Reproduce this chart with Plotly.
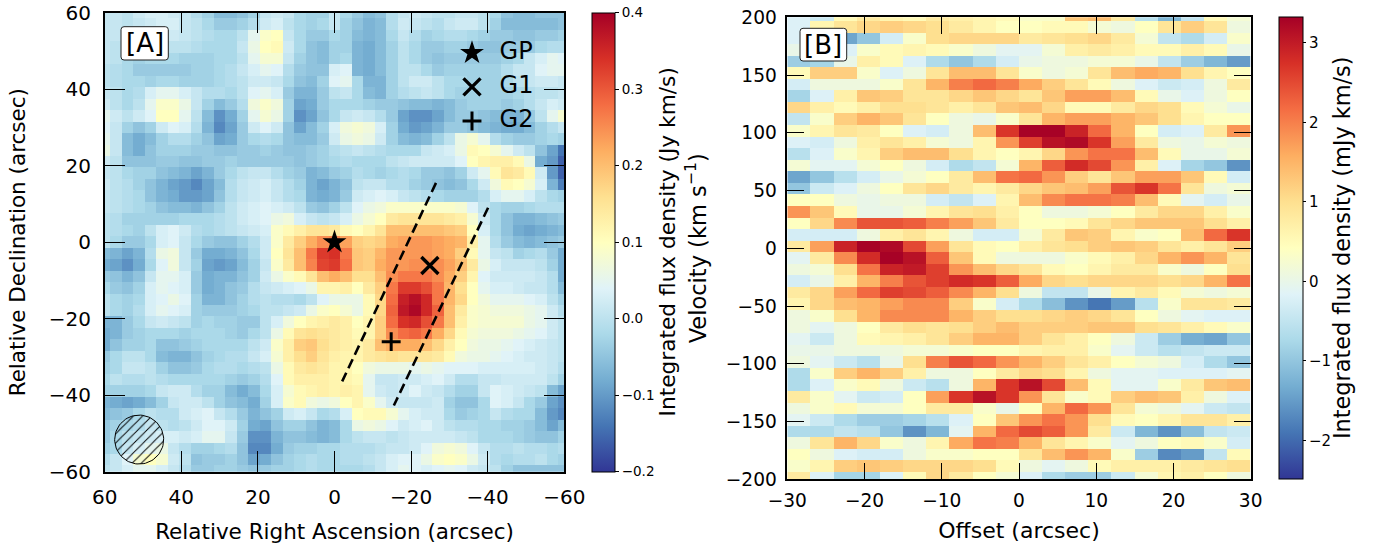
import numpy as np
import plotly.graph_objects as go

RD_YL_BU_R = ["#313695", "#4575b4", "#74add1", "#abd9e9", "#e0f3f8", "#ffffbf",
              "#fee090", "#fdae61", "#f46d43", "#d73027", "#a50026"]
COLORSCALE = [[i / 10, c] for i, c in enumerate(RD_YL_BU_R)]

# Panel A: integrated flux density, hundredths of Jy km/s
ra_offsets = [60 - 3 * k for k in range(41)]
dec_offsets = [60 - 3 * k for k in range(41)]
flux_map = [
 [1,1,0,2,3,3,2,1,-1,-3,-6,-6,-5,-3,1,2,1,-2,-3,-3,1,-2,-4,-6,-5,-1,1,2,1,0,0,1,1,0,-2,-5,-6,-6,-5,-5,-5],
 [1,1,0,1,2,3,3,1,0,-2,-4,-4,-3,-1,2,3,0,-2,-3,-2,1,-3,-5,-7,-6,-1,2,1,0,-1,1,2,2,0,-3,-6,-6,-6,-6,-6,-5],
 [1,1,-1,-1,1,2,2,1,0,-1,-2,-2,0,5,9,10,1,-2,-4,-4,-2,-3,-6,-7,-6,-2,1,-1,-3,-2,-1,-1,-2,-3,-4,-4,-5,-5,-4,-4,-3],
 [1,0,-1,-1,0,1,0,0,-1,-2,-2,-2,1,6,10,11,2,-2,-5,-6,-3,-3,-7,-8,-6,-3,0,-2,-4,-4,-3,-3,-4,-5,-5,-4,-4,-4,-2,-1,-1],
 [1,0,-2,-3,-2,-2,-2,-3,-3,-3,-2,-2,0,5,8,8,1,-3,-5,-6,-3,-2,-7,-8,-6,-3,0,-2,-4,-5,-4,-4,-4,-4,-4,-3,-2,1,3,5,4],
 [0,-1,-2,-4,-4,-4,-4,-4,-3,-3,-2,-1,1,3,5,4,-1,-4,-5,-5,3,4,-7,-8,-6,-3,0,0,-2,-4,-3,-3,-3,-3,-3,-1,1,1,4,5,5],
 [0,-1,-2,-2,-3,-2,-2,-3,-3,-3,-2,-1,0,2,2,1,-2,-5,-6,-3,4,5,-2,-7,-7,-3,0,2,2,0,-2,-2,-3,-3,-3,-2,0,1,2,2,1],
 [1,0,-2,-1,3,5,5,3,1,-1,-1,-2,0,4,5,3,-4,-7,-7,-4,0,1,-2,-6,-7,-3,-1,0,1,0,-2,-3,-3,-3,-3,-3,-2,-1,0,0,1],
 [2,0,-2,0,5,9,9,6,1,-3,-6,-4,-1,7,9,7,-3,-9,-8,-4,-2,-2,-2,-3,-4,-4,-5,-6,-6,-7,-6,-4,-3,-3,-3,-4,-3,-1,1,3,2],
 [5,2,0,2,4,10,10,5,0,-6,-11,-8,-3,5,8,6,-3,-11,-9,-5,-2,1,2,1,-1,-4,-9,-11,-11,-9,-6,-4,-4,-5,-6,-7,-7,-4,0,5,8],
 [4,1,-3,-5,-3,2,4,3,-1,-7,-12,-9,-4,2,4,2,-5,-9,-6,-3,3,7,8,7,3,-3,-8,-10,-9,-7,-4,-4,-5,-6,-7,-8,-8,-6,-3,-1,1],
 [5,1,-6,-8,-6,-3,-1,-1,-3,-5,-9,-8,-4,-2,-1,-2,-5,-6,-6,-4,2,6,7,6,2,-3,-6,-7,-6,-3,0,6,8,5,-1,-3,-4,-4,-3,-2,-3],
 [6,1,-6,-8,-5,-3,-3,-3,-4,-4,-5,-5,-4,-4,-3,-4,-5,-5,-4,-3,-1,0,1,0,-1,-2,-2,-2,1,2,3,6,11,10,8,5,2,0,-5,-9,-14],
 [2,0,-5,-5,-5,-4,-4,-5,-5,-4,-4,-3,-4,-4,-4,-4,-4,-5,-4,-3,-2,-1,-2,-2,-2,0,1,2,2,2,2,4,10,12,13,13,11,6,-8,-10,-16],
 [1,0,-2,-3,-3,-5,-6,-7,-9,-7,-4,-2,0,1,1,-1,-3,-4,-7,-6,-4,-3,-1,-2,-3,-2,-1,-2,-4,-4,-5,-3,2,5,11,15,14,11,2,-10,-16],
 [2,0,-1,-3,-5,-7,-9,-10,-12,-9,-6,-1,1,2,3,1,-1,-3,-7,-9,-7,-5,0,1,1,-1,-1,-3,-4,-5,-6,-5,-2,2,7,11,10,8,3,-7,-13],
 [1,0,-1,-2,-5,-7,-8,-10,-10,-9,-5,-1,1,2,3,1,-1,-2,-7,-8,-7,-4,2,3,4,3,1,0,-1,-2,-3,-3,-3,-1,3,5,5,3,0,-2,-3],
 [1,0,-1,-2,-3,-5,-6,-6,-7,-5,-3,0,2,3,4,3,2,0,-4,-5,-3,0,4,6,7,9,9,9,9,9,9,8,4,0,-2,-3,-3,-2,-1,-1,-1],
 [0,-1,-3,-3,-3,-3,-3,-2,-2,-2,-1,0,2,3,4,6,7,3,1,0,1,3,6,8,10,14,15,15,15,15,14,13,8,2,-2,-5,-7,-7,-6,-5,-4],
 [0,-1,-2,-3,0,3,4,2,-1,-2,-1,0,1,2,3,9,11,13,15,15,14,11,10,12,15,20,20,20,20,20,19,18,10,3,-2,-5,-8,-9,-8,-7,-6],
 [0,-2,-4,-4,-2,3,4,1,-2,-4,-5,-5,-3,-1,2,9,14,18,22,25,26,23,18,17,18,22,23,24,24,23,22,21,13,5,-1,-4,-6,-7,-6,-5,-4],
 [-6,-7,-9,-7,-1,6,7,1,-4,-8,-8,-7,-5,-2,2,10,15,20,27,33,34,27,19,18,21,24,24,24,24,23,22,18,11,5,1,0,-3,-2,-1,-4,-8],
 [-8,-9,-11,-8,-2,4,7,1,-3,-9,-10,-9,-6,-3,1,9,14,20,26,32,33,28,19,18,22,24,24,25,25,25,23,20,14,6,3,1,1,1,0,-3,-8],
 [-4,-5,-7,-5,1,5,5,3,-4,-8,-7,-7,-5,-3,2,6,9,11,15,20,22,20,16,16,20,25,27,27,27,25,22,18,12,4,2,2,2,2,1,-1,-8],
 [-2,-4,-5,-3,3,5,4,3,-4,-8,-7,-5,-4,-1,1,2,3,4,6,12,12,13,10,14,18,27,33,33,31,27,21,16,10,5,3,3,2,1,1,-1,-6],
 [0,-2,-3,-2,3,4,6,4,-3,-7,-7,-5,-3,-1,0,-1,-1,-2,0,4,6,6,6,11,17,28,36,38,35,27,21,17,10,7,5,5,5,4,3,0,-3],
 [0,-2,-3,-1,3,5,4,3,-3,-4,-4,-4,-3,-2,0,0,1,2,6,9,10,8,6,11,17,29,37,39,35,29,20,14,9,8,7,7,7,6,5,2,-1],
 [-7,-7,-4,-2,1,2,1,0,-3,-2,-3,-3,-4,-4,0,3,7,10,12,13,14,13,10,12,18,28,34,35,31,27,20,13,9,8,8,8,8,6,5,2,0],
 [-8,-7,-4,-3,-2,-2,-2,-3,-2,-2,-2,-3,-4,-2,0,6,11,15,16,15,14,13,11,12,18,25,28,29,27,22,17,11,8,7,7,7,6,5,4,2,0],
 [-8,-5,-3,-3,-2,-5,-5,-4,-3,-2,-2,-2,-2,0,2,9,13,18,19,16,14,13,12,14,20,22,22,22,20,17,13,10,7,6,6,5,4,3,2,1,0],
 [-4,-2,0,0,-2,-6,-7,-7,-5,-3,-2,-1,-1,1,3,8,13,16,18,15,13,12,12,14,15,16,15,15,15,14,11,7,6,6,5,4,3,2,2,1,0],
 [-3,-2,1,1,0,-3,-5,-5,-4,-2,-1,-1,-2,-1,0,6,11,14,15,14,12,12,10,7,6,6,6,5,6,5,4,4,4,3,3,3,3,3,2,1,-1],
 [-2,0,-1,-1,0,-1,-2,-2,-2,-2,-2,-3,-4,-3,-1,4,11,13,13,13,12,12,11,5,1,1,2,2,3,4,2,-1,-1,1,1,2,2,2,2,0,-3],
 [-3,-3,-3,-3,-2,1,2,2,-1,-3,-3,-6,-8,-6,-2,3,8,11,12,13,12,13,12,5,2,1,2,4,2,1,-1,-3,-3,1,4,3,2,1,0,-6,-9],
 [-7,-8,-9,-8,-6,-3,1,2,2,0,-3,-5,-6,-8,-3,3,9,11,7,6,7,10,12,9,5,2,1,1,1,2,-3,-5,-5,-2,4,3,1,-2,-4,-9,-11],
 [-6,-5,-4,-2,0,-1,-1,2,3,4,1,-1,-4,-7,-5,-3,2,3,1,-2,-1,3,10,11,11,8,5,3,2,2,-2,-4,-3,-2,1,-1,-2,-2,-6,-10,-12],
 [-4,-3,-2,-1,1,0,-1,0,2,4,4,2,-3,-8,-9,-5,-3,-3,-5,-7,-6,-2,6,7,6,4,2,3,4,2,0,-1,-1,-2,-2,-3,-3,-4,-6,-9,-6],
 [-4,-2,0,1,2,3,3,2,3,5,5,1,-4,-11,-11,-7,-5,-5,-6,-7,-6,-2,0,1,1,0,1,2,2,2,2,1,0,-2,-2,-2,-3,-4,-5,-5,-3],
 [-3,-2,1,3,5,6,1,-1,-3,-3,-2,-1,-5,-12,-12,-8,-4,-3,-3,-2,-2,-1,-1,-1,0,1,1,2,4,7,8,7,4,1,-1,-1,0,-1,-1,-2,-1],
 [-1,1,4,8,10,8,2,0,-5,-4,-4,-3,-5,-9,-8,-5,-3,-2,-1,-2,-2,-1,-1,0,1,3,4,4,6,9,10,9,6,2,-1,-2,-1,-1,0,-2,-3],
 [0,1,3,5,5,3,1,-1,-4,-4,-3,-3,-4,-5,-4,-3,-3,-2,-1,-2,-2,-2,-2,-1,1,3,5,4,3,4,5,4,2,1,0,-3,-5,-5,-5,-5,-5],
]

# Panel B: position-velocity slice, tenths of mJy km/s
pv_offsets = [-28.5 + 3 * k for k in range(20)]
pv_velocities = [201.8 - 10 * k for k in range(41)]
pv_slice = [
 [-2,-4,5,8,6,5,8,7,6,5,3,3,13,14,8,-6,-12,-5,5,2],
 [-2,6,9,11,12,11,10,8,6,4,4,5,5,2,1,4,9,12,9,1],
 [-2,-4,-14,-10,-3,3,10,11,11,11,8,9,10,11,8,2,-5,-7,-3,3],
 [0,-2,-2,3,5,6,5,3,1,-1,-1,2,7,8,7,5,5,7,5,0],
 [-9,-8,0,7,5,-2,-7,-10,-7,-3,0,1,1,2,2,0,-5,-9,-12,-15],
 [5,12,12,3,-2,1,9,14,14,9,3,1,2,9,14,16,15,10,6,4],
 [-3,1,1,1,3,9,15,20,22,20,16,12,9,5,1,-2,-4,-3,1,8],
 [-8,-2,7,13,12,9,9,11,13,11,9,13,17,17,14,5,0,-2,1,4],
 [11,7,5,7,10,10,9,7,9,13,14,11,5,5,8,11,10,5,2,0],
 [-5,3,12,15,13,9,4,1,0,3,9,15,17,17,15,13,10,6,4,4],
 [3,6,9,8,4,-2,-3,1,14,27,33,33,29,22,15,4,-3,-2,8,18],
 [-2,-3,1,7,9,7,2,1,6,18,26,31,32,27,17,8,1,0,2,1],
 [-6,-2,3,6,12,14,14,10,6,4,6,11,18,21,21,14,5,0,0,2],
 [2,-1,-1,2,4,1,-3,-7,-5,2,15,23,28,25,18,7,-2,-8,-10,-16],
 [-14,-10,-6,-3,0,2,4,8,14,21,22,18,12,9,13,17,17,13,5,-3],
 [-10,-4,-2,1,4,9,11,8,6,8,11,13,14,17,24,27,21,9,1,2],
 [4,4,1,0,1,1,-3,-5,-2,6,14,19,21,21,20,14,5,-1,-3,0],
 [18,13,5,0,0,2,6,9,10,7,4,1,1,2,4,8,11,11,7,3],
 [4,11,19,24,24,23,20,17,13,8,4,4,5,9,11,13,13,13,10,7],
 [-3,-3,-3,1,7,9,6,1,-3,-3,2,8,13,12,6,3,4,14,22,27],
 [8,17,29,33,32,25,17,9,5,4,7,9,10,12,13,12,9,7,9,12],
 [-1,8,19,28,33,31,23,13,5,1,1,1,3,5,7,11,15,18,15,9],
 [1,2,10,21,29,30,26,18,14,11,9,5,4,6,8,8,3,1,4,10],
 [-3,0,7,15,20,24,26,28,27,23,16,11,10,11,11,11,10,11,15,21],
 [8,11,17,22,26,25,23,19,15,10,1,-5,-5,0,6,8,5,2,1,2],
 [6,11,14,15,17,19,19,12,3,-3,-7,-11,-16,-19,-15,-6,3,9,9,8],
 [1,3,10,15,19,19,19,15,12,10,10,11,12,11,9,4,1,-1,-2,-2],
 [1,-1,1,4,8,10,9,10,12,14,12,12,12,13,13,10,9,7,5,3],
 [-1,-4,1,5,6,7,9,12,15,15,12,9,7,4,1,-4,-9,-13,-14,-10],
 [0,0,1,1,1,2,2,3,4,4,6,7,7,3,-1,-4,-6,-5,-4,-4],
 [1,-1,-4,-6,0,10,20,24,22,18,15,12,9,7,4,2,1,-3,-7,-10],
 [-7,3,12,15,12,7,1,1,4,8,11,10,6,1,-1,-1,-2,-2,-2,-1],
 [-7,-2,3,5,1,-4,-6,1,15,27,31,25,14,5,-1,-1,3,8,13,14],
 [8,3,-1,-4,-3,4,17,27,31,27,18,9,3,5,12,14,13,7,1,-2],
 [1,3,5,2,2,4,8,8,3,0,4,15,22,18,9,2,1,-1,-4,-5],
 [-1,-4,-7,-9,-9,-8,-6,-2,4,13,18,21,18,10,5,4,6,9,9,7],
 [-7,-7,-5,-6,-10,-16,-12,-1,15,22,25,23,18,8,-4,-12,-16,-11,-5,-4],
 [1,9,15,11,3,1,6,16,21,20,15,9,6,3,-1,1,4,5,3,-3],
 [4,1,-2,-3,-3,1,3,3,4,4,9,14,18,15,3,-9,-17,-15,-5,5],
 [3,6,12,13,12,11,11,11,10,5,1,-1,1,5,7,7,7,8,9,10],
 [8,-2,-8,-8,-2,5,11,8,4,2,-2,-7,-9,-9,-4,2,6,7,4,1],
]

# Sources in panel A
source_names = ["GP", "G1", "G2"]
source_ra = [0, -24.9, -14.8]
source_dec = [0, -6.1, -26]
key_ra = [-35.9, -35.9, -35.9]
key_dec = [49.5, 40.6, 31.7]
key_label_ra = [-43.1, -43.1, -43.1]

# Dashed slit edges in panel A
slit_a_ra = [-26.5, -2.0]
slit_a_dec = [15.5, -36.4]
slit_b_ra = [-40.1, -15.5]
slit_b_dec = [9.0, -42.7]

# Beam in panel A
beam_ra, beam_dec, beam_radius = 51.0, -51.6, 6.4

# Tick values
ra_ticks = [60, 40, 20, 0, -20, -40, -60]
dec_ticks = [60, 40, 20, 0, -20, -40, -60]
offset_ticks = [-30, -20, -10, 0, 10, 20, 30]
velocity_ticks = [-200, -150, -100, -50, 0, 50, 100, 150, 200]

W, H = 1382, 549
FONT = "DejaVu Sans"


def xdom(a, b):
    return [a / W, b / W]


def ydom(top, bottom):
    return [1 - bottom / H, 1 - top / H]


def label_box(x0, x1, y0, y1, r=3):
    """Rounded white box in paper pixels, for the panel labels."""
    X = lambda v: v / W
    Y = lambda v: 1 - v / H
    path = (f"M {X(x0 + r)} {Y(y0)} L {X(x1 - r)} {Y(y0)} Q {X(x1)} {Y(y0)} {X(x1)} {Y(y0 + r)} "
            f"L {X(x1)} {Y(y1 - r)} Q {X(x1)} {Y(y1)} {X(x1 - r)} {Y(y1)} "
            f"L {X(x0 + r)} {Y(y1)} Q {X(x0)} {Y(y1)} {X(x0)} {Y(y1 - r)} "
            f"L {X(x0)} {Y(y0 + r)} Q {X(x0)} {Y(y0)} {X(x0 + r)} {Y(y0)} Z")
    return dict(type="path", xref="paper", yref="paper", path=path, fillcolor="#fff",
                line=dict(color="#222", width=1), layer="above")


fig = go.Figure()

fig.add_trace(go.Heatmap(
    x=ra_offsets, y=dec_offsets, z=np.array(flux_map) / 100, xaxis="x", yaxis="y",
    colorscale=COLORSCALE, zmin=-0.2, zmax=0.4, hoverinfo="skip",
    colorbar=dict(
        x=592.3 / W, xanchor="left", thicknessmode="pixels", thickness=23.4,
        y=1 - 12.7 / H, yanchor="top", lenmode="pixels", len=459,
        xpad=0, ypad=0, outlinewidth=1, outlinecolor="#000",
        tickmode="array", tickvals=[-0.2, -0.1, 0, 0.1, 0.2, 0.3, 0.4],
        ticktext=["\u22120.2", "\u22120.1", "0.0", "0.1", "0.2", "0.3", "0.4"],
        ticks="outside", ticklen=4, tickwidth=1, tickcolor="#000",
        tickfont=dict(family=FONT, size=13.5, color="#000"),
    ),
))

fig.add_trace(go.Heatmap(
    x=pv_offsets, y=pv_velocities, z=np.array(pv_slice) / 10, xaxis="x2", yaxis="y2",
    colorscale=COLORSCALE, zmin=-2.49, zmax=3.32, hoverinfo="skip",
    colorbar=dict(
        x=1279.3 / W, xanchor="left", thicknessmode="pixels", thickness=23.7,
        y=1 - 17.3 / H, yanchor="top", lenmode="pixels", len=462,
        xpad=0, ypad=0, outlinewidth=1, outlinecolor="#000",
        tickmode="array", tickvals=[-2, -1, 0, 1, 2, 3],
        ticks="outside", ticklen=3, tickwidth=1, tickcolor="#000",
        tickfont=dict(family=FONT, size=15, color="#000"),
    ),
))

theta = np.linspace(0, 2 * np.pi, 90)
fig.add_trace(go.Scatter(
    x=beam_ra + beam_radius * np.cos(theta), y=beam_dec + beam_radius * np.sin(theta),
    mode="lines", fill="toself", fillcolor="rgba(0,0,0,0)",
    fillpattern=dict(shape="/", size=6.5, solidity=0.15, fgcolor="#000", bgcolor="rgba(0,0,0,0)",
                     fgopacity=1),
    line=dict(color="#000", width=1), hoverinfo="skip", showlegend=False,
))

for sx, sy in ((slit_a_ra, slit_a_dec), (slit_b_ra, slit_b_dec)):
    fig.add_trace(go.Scatter(x=sx, y=sy, mode="lines", hoverinfo="skip", showlegend=False,
                             line=dict(color="#000", width=2.6, dash="10px,5px")))

SYMBOLS = [
    dict(symbol="star", size=18, color="#000", line=dict(width=0)),
    dict(symbol="x-thin-open", size=17, color="#000", line=dict(width=3.4, color="#000")),
    dict(symbol="cross-thin-open", size=13.5, color="#000", line=dict(width=3, color="#000")),
]
for i, name in enumerate(source_names):
    fig.add_trace(go.Scatter(x=[source_ra[i]], y=[source_dec[i]], mode="markers",
                             marker=SYMBOLS[i], name=name, showlegend=False))
    fig.add_trace(go.Scatter(x=[key_ra[i]], y=[key_dec[i]], mode="markers",
                             marker=SYMBOLS[i], name=name, showlegend=False))
fig.add_trace(go.Scatter(x=key_label_ra, y=key_dec, mode="text", text=source_names,
                         textposition="middle right", hoverinfo="skip", showlegend=False,
                         textfont=dict(family=FONT, size=24, color="#000")))

AX = dict(
    showgrid=False, zeroline=False, showline=True, linewidth=1.5, linecolor="#000",
    mirror="ticks", ticks="inside", tickcolor="#000", tickwidth=1.2,
    tickmode="array",
)
TITLE_FONT = dict(family=FONT, size=21.5, color="#000")
NOTE = dict(xref="paper", yref="paper", showarrow=False, xanchor="center", yanchor="middle")
fig.update_layout(
    width=W, height=H, margin=dict(l=0, r=0, t=0, b=0, autoexpand=False), autosize=False,
    paper_bgcolor="#fff", plot_bgcolor="#fff", showlegend=False,
    font=dict(family=FONT, color="#000"),
    xaxis=dict(AX, domain=xdom(104.7, 564.3), range=[60, -60], tickvals=ra_ticks, ticklen=21,
               tickfont=dict(family=FONT, size=20, color="#000"), ticklabelstandoff=7,
               title=dict(text="Relative Right Ascension (arcsec)", standoff=15, font=TITLE_FONT)),
    yaxis=dict(AX, domain=ydom(12.7, 471.7), range=[-60, 60], tickvals=dec_ticks, ticklen=21,
               tickfont=dict(family=FONT, size=20, color="#000"), ticklabelstandoff=8,
               title=dict(text="Relative Declination (arcsec)", standoff=17, font=TITLE_FONT)),
    xaxis2=dict(AX, domain=xdom(787.3, 1250.7), range=[-30, 30], tickvals=offset_ticks, ticklen=17,
                tickfont=dict(family=FONT, size=18.6, color="#000"), ticklabelstandoff=4,
                anchor="y2", title=dict(text="Offset (arcsec)", standoff=12,
                                        font=dict(family=FONT, size=22, color="#000"))),
    yaxis2=dict(AX, domain=ydom(17.3, 479.3), range=[-200, 200], tickvals=velocity_ticks, ticklen=17,
                tickfont=dict(family=FONT, size=18.6, color="#000"), ticklabelstandoff=5,
                anchor="x2", title=dict(text="Velocity (km s<sup>\u22121</sup>)", standoff=13,
                                        font=dict(family=FONT, size=22.5, color="#000"))),
    shapes=[label_box(121, 168.3, 26.7, 60), label_box(800, 846.7, 28.3, 61)],
    annotations=[
        dict(NOTE, text="[A]", x=144.6 / W, y=1 - 43.5 / H,
             font=dict(family=FONT, size=26, color="#000")),
        dict(NOTE, text="[B]", x=823.3 / W, y=1 - 44.5 / H,
             font=dict(family=FONT, size=26, color="#000")),
        dict(NOTE, text="Integrated flux density (Jy km/s)",
             x=667 / W, y=1 - 242.5 / H, textangle=-90,
             font=dict(family=FONT, size=21.7, color="#000")),
        dict(NOTE, text="Integrated flux density (mJy km/s)",
             x=1342 / W, y=1 - 248 / H, textangle=-90,
             font=dict(family=FONT, size=22.4, color="#000")),
    ],
)

fig.write_html("out.html", config=dict(displayModeBar=False),
               post_script="document.body.style.margin='0';")
